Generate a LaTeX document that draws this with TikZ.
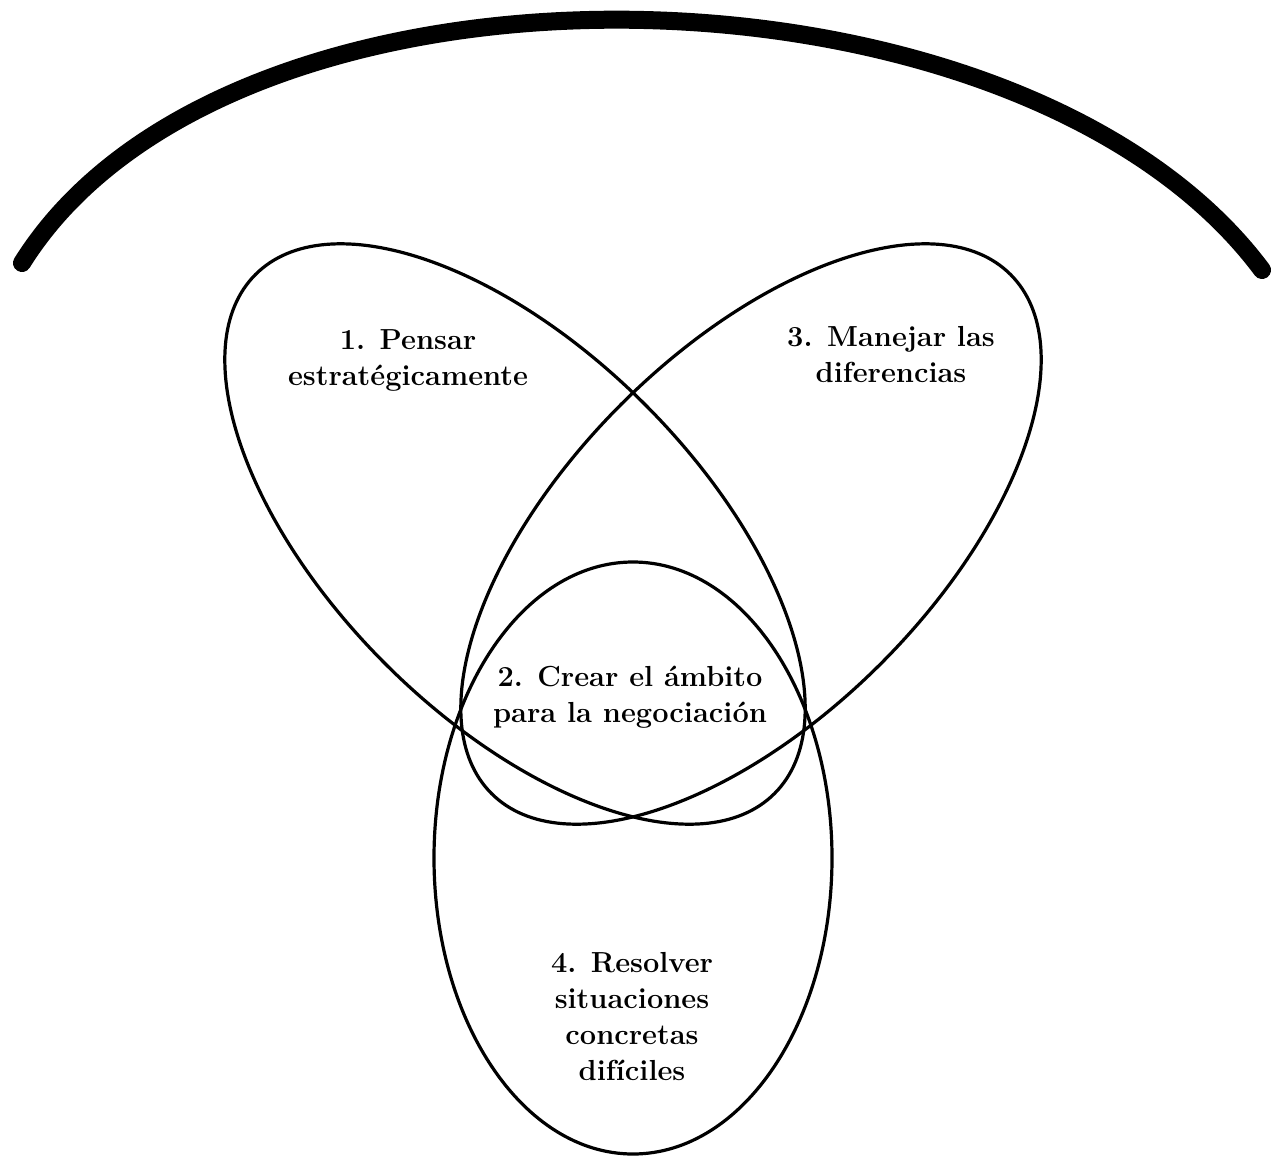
\documentclass[tikz,border=0pt]{standalone}
\usepackage{fontspec}
\setmainfont{Latin Modern Roman}
\begin{document}
\begin{tikzpicture}[x=1pt,y=-1pt,
  loop/.style={draw=black, line width=3.2pt},
  lobetext/.style={font=\fontsize{29}{36}\selectfont\bfseries, align=center, inner sep=0pt},
]
\useasboundingbox (0,0) rectangle (1279,1156);

% heavy arc across the top
\coordinate (arcL) at (22,263);
\coordinate (arcR) at (1262,270);
\draw[line width=18pt, line cap=round] (arcL) .. controls (230,-70) and (1020,-55) .. (arcR);

% the three ovals
\coordinate (c1) at (515,534);
\coordinate (c3) at (751,534);
\coordinate (c4) at (633,858);
\draw[loop, rotate around={-45:(c1)}] (c1) ellipse [x radius=367, y radius=183.5];
\draw[loop, rotate around={45:(c3)}] (c3) ellipse [x radius=367, y radius=183.5];
\draw[loop] (c4) ellipse [x radius=199, y radius=296];

% labels
\node[lobetext] (t1) at (408,360) {1. Pensar\\estratégicamente};
\node[lobetext] (t3) at (891,355) {3. Manejar las\\diferencias};
\node[lobetext] (t2) at (630,697) {2. Crear el ámbito\\para la negociación};
\node[lobetext] (t4) at (632,1017) {4. Resolver\\situaciones\\concretas\\difíciles};
\end{tikzpicture}
\end{document}
